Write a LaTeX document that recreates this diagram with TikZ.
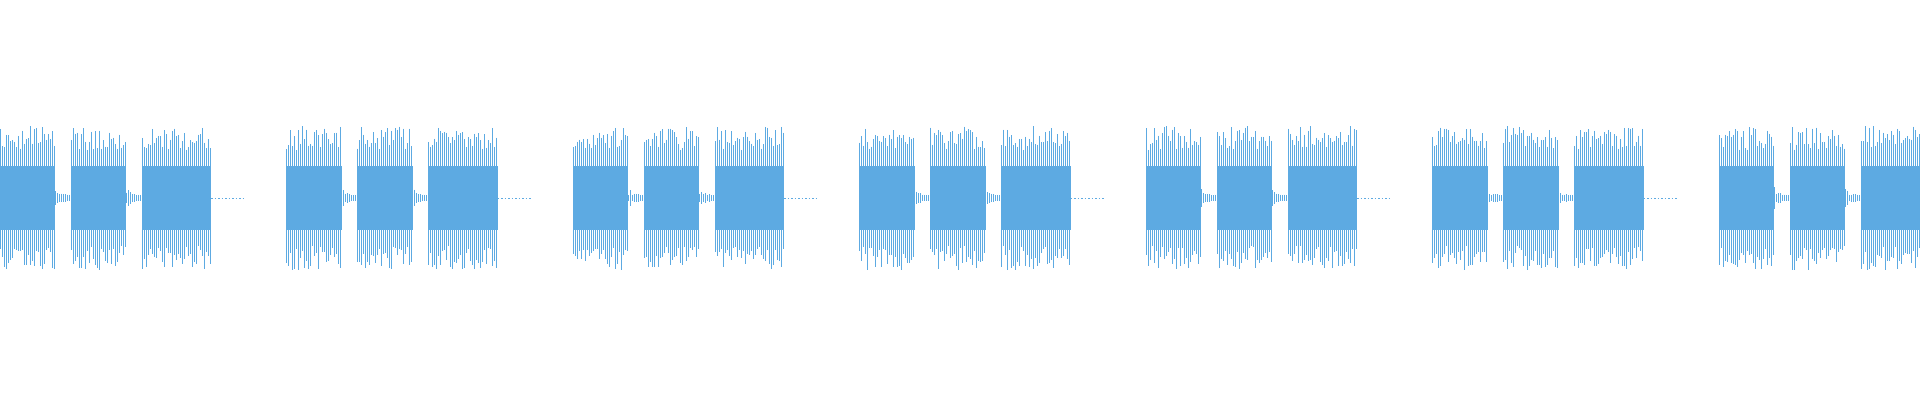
\documentclass[tikz,border=0pt]{standalone}
\definecolor{wave}{RGB}{93,170,226}
\begin{document}
\begin{tikzpicture}[x=1pt,y=-1pt,spike/.style={draw=wave,line width=0.5pt}]
\useasboundingbox (0,0) rectangle (1920,400);
\clip (0,0) rectangle (1920,400);
\pgfmathsetseed{7}
\foreach \g in {0,...,6}{
  \pgfmathsetmacro\gx{\g*286.5}
  \foreach \a/\b in {0/55,71/126,142/211}{
    \fill[wave] ({\gx+\a},166) rectangle ({\gx+\b},230);
    \pgfmathtruncatemacro\sa{\a+2}
    \foreach \x in {\a,\sa,...,\b}{
      \pgfmathsetmacro\ht{48+24*rnd}
      \pgfmathsetmacro\hb{48+24*rnd}
      \draw[spike] ({\gx+\x},{198-\ht}) -- ({\gx+\x},{198+\hb});
    }
  }
  \foreach \t in {55,126}{
    \foreach \x in {0,2,...,16}{
      \pgfmathsetmacro\hh{3+9*exp(-0.25*\x)*rnd}
      \draw[spike] ({\gx+\t+\x},{198-\hh}) -- ({\gx+\t+\x},{198+\hh});
    }
  }
  \draw[wave,line width=0.8pt,dash pattern=on 1.5pt off 2pt] ({\gx+211},198) -- ({\gx+245},198);
}
\end{tikzpicture}
\end{document}
